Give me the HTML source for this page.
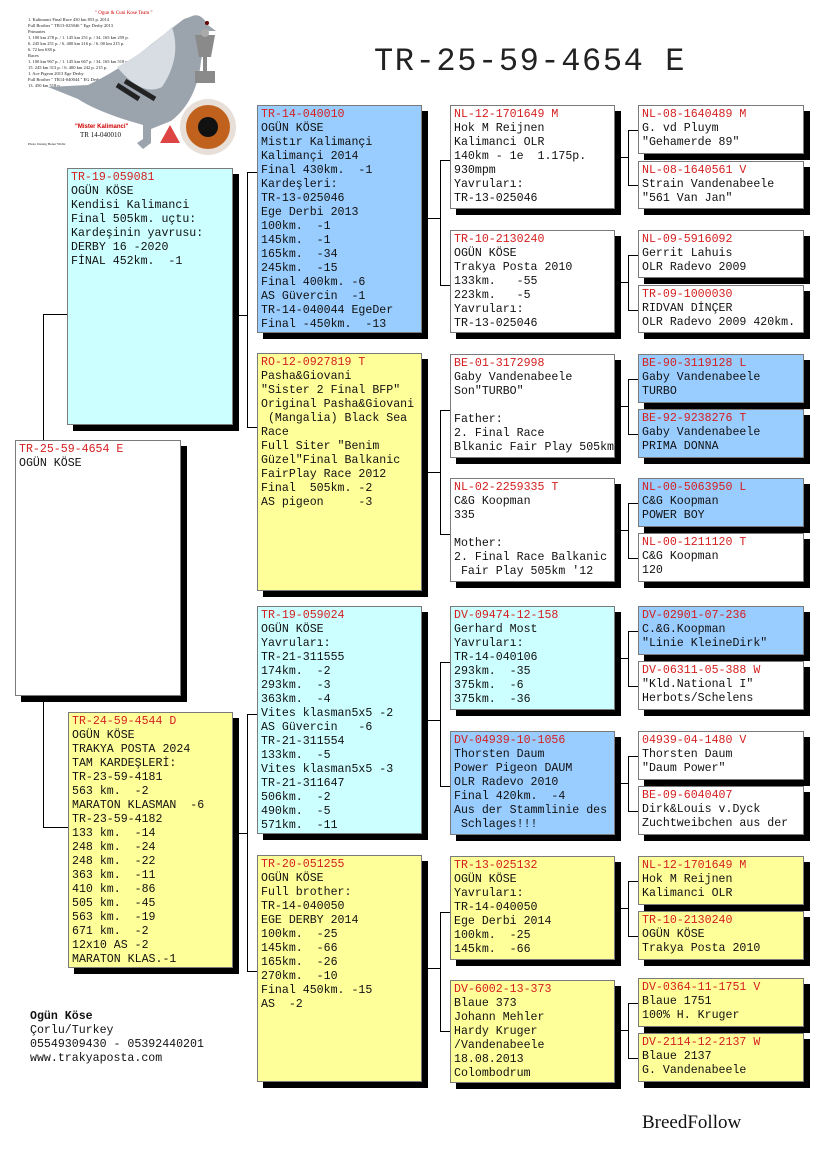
<!DOCTYPE html>
<html><head><meta charset="utf-8"><style>
*{margin:0;padding:0;box-sizing:border-box}
body{width:825px;height:1172px;background:#fff;position:relative;overflow:hidden;font-family:"Liberation Mono",monospace}
.b{position:absolute;border:1px solid #7a7a7a;box-shadow:6px 6px 0 #000;font-size:11.6px;line-height:14px;padding:2px 0 0 3px;color:#111;white-space:pre;overflow:hidden}
.r{color:#d42020}
.w{background:#fff}.y{background:#ffff99}.c{background:#ccffff}.bl{background:#99ccff}
.h{position:absolute;height:1px;background:#000}
.v{position:absolute;width:1px;background:#000}
</style></head><body>

<svg style="position:absolute;left:25px;top:5px" width="225" height="150" viewBox="0 0 225 150">
<text x="70" y="9" font-size="5" fill="#c00" font-family="Liberation Serif">" Ogun &amp; Cuni Kose Team "</text>
<g font-size="4.5" font-family="Liberation Serif" fill="#222">
<text x="3" y="16">1. Kalimanci Final Race 430 km 853 p. 2014</text>
<text x="3" y="22">Full Brother " TR13-025046 " Ege Derby 2013</text>
<text x="3" y="28">Primaries</text>
<text x="3" y="34">1. 100 km 278 p. / 1. 145 km 251 p. / 34. 165 km 259 p.</text>
<text x="3" y="40">6. 245 km 251 p. / 6. 400 km 216 p. / 6. 00 km 215 p.</text>
<text x="3" y="46">6. 72 km 638 p.</text>
<text x="3" y="52">Races</text>
<text x="3" y="58">1. 100 km 967 p. / 1. 145 km 667 p. / 34. 165 km 518 p.</text>
<text x="3" y="64">15. 245 km 313 p. / 6. 400 km 242 p. 215 p.</text>
<text x="3" y="70">1. Ace Pigeon 2013 Ege Derby</text>
<text x="3" y="76">Full Brother " TR14-040044 " EG Derby 2014 " 13 "</text>
<text x="3" y="82">13. 450 km 518 p.</text>
<text x="3" y="140" font-size="3.5">Photo Desing Bener Yildiz</text>
</g>
<path d="M165 12 q10 -6 18 8 l8 6 l-9 0 q-2 12 -6 30 q-4 40 -30 60 l-20 8 l0 14 l-8 6 l-6 -6 l6 -4 l0 -14 l-20 -6 q-30 -10 -45 -20 l-30 -12 l40 -2 q30 -14 60 -38 q20 -16 36 -28 z" fill="#9ba3ad"/>
<path d="M92 62 q30 -16 55 -40 q10 30 -10 60 q-20 10 -45 -20z" fill="#d8dde4"/>
<path d="M100 76 l30 18 M92 80 l22 14" stroke="#222" stroke-width="5"/>
<circle cx="182" cy="18" r="2" fill="#600"/>
<path d="M145 120 l-10 18 l20 0 z" fill="#d44"/>
<path d="M170 30 l20 0 l-4 22 l-12 0 z M178 52 l4 0 l0 14 l-4 0z M170 66 l20 0 l0 12 l-20 0z" fill="#8a8a8a"/>
<circle cx="180" cy="28" r="4" fill="#aaa"/>
<circle cx="183" cy="122" r="28" fill="#e8e0d8"/>
<circle cx="183" cy="122" r="22" fill="#c0621e"/>
<circle cx="183" cy="122" r="10" fill="#111"/>
<text x="50" y="123" font-size="6" fill="#c00" font-weight="bold" font-family="Liberation Sans">"Mister Kalimanci"</text>
<text x="55" y="132" font-size="7" fill="#111" font-family="Liberation Serif">TR 14-040010</text>
</svg>

<div style="position:absolute;left:374px;top:43px;font-size:32px;letter-spacing:1.6px;color:#222">TR-25-59-4654 E</div>

<!-- connectors -->
<div class="v" style="left:43px;top:314px;height:126px"></div><div class="h" style="left:43px;top:314px;width:25px"></div>
<div class="v" style="left:43px;top:696px;height:131px"></div><div class="h" style="left:43px;top:827px;width:25px"></div>

<div class="h" style="left:233px;top:315px;width:14px"></div><div class="v" style="left:247px;top:172px;height:256px"></div>
<div class="h" style="left:247px;top:172px;width:10px"></div><div class="h" style="left:247px;top:427px;width:10px"></div>
<div class="h" style="left:233px;top:833px;width:14px"></div><div class="v" style="left:247px;top:714px;height:258px"></div>
<div class="h" style="left:247px;top:714px;width:10px"></div><div class="h" style="left:247px;top:971px;width:10px"></div>

<div class="h" style="left:422px;top:218px;width:18px"></div><div class="v" style="left:440px;top:160px;height:125px"></div>
<div class="h" style="left:440px;top:160px;width:10px"></div><div class="h" style="left:440px;top:285px;width:10px"></div>
<div class="h" style="left:422px;top:472px;width:18px"></div><div class="v" style="left:440px;top:410px;height:125px"></div>
<div class="h" style="left:440px;top:410px;width:10px"></div><div class="h" style="left:440px;top:534px;width:10px"></div>
<div class="h" style="left:422px;top:720px;width:18px"></div><div class="v" style="left:440px;top:662px;height:125px"></div>
<div class="h" style="left:440px;top:662px;width:10px"></div><div class="h" style="left:440px;top:786px;width:10px"></div>
<div class="h" style="left:422px;top:968px;width:18px"></div><div class="v" style="left:440px;top:912px;height:120px"></div>
<div class="h" style="left:440px;top:912px;width:10px"></div><div class="h" style="left:440px;top:1031px;width:10px"></div>

<div class="h" style="left:614px;top:157px;width:14px"></div><div class="v" style="left:628px;top:130px;height:56px"></div><div class="h" style="left:628px;top:130px;width:10px"></div><div class="h" style="left:628px;top:185px;width:10px"></div>
<div class="h" style="left:614px;top:282px;width:14px"></div><div class="v" style="left:628px;top:255px;height:56px"></div><div class="h" style="left:628px;top:255px;width:10px"></div><div class="h" style="left:628px;top:310px;width:10px"></div>
<div class="h" style="left:614px;top:406px;width:14px"></div><div class="v" style="left:628px;top:379px;height:56px"></div><div class="h" style="left:628px;top:379px;width:10px"></div><div class="h" style="left:628px;top:434px;width:10px"></div>
<div class="h" style="left:614px;top:530px;width:14px"></div><div class="v" style="left:628px;top:503px;height:56px"></div><div class="h" style="left:628px;top:503px;width:10px"></div><div class="h" style="left:628px;top:558px;width:10px"></div>
<div class="h" style="left:614px;top:658px;width:14px"></div><div class="v" style="left:628px;top:631px;height:56px"></div><div class="h" style="left:628px;top:631px;width:10px"></div><div class="h" style="left:628px;top:686px;width:10px"></div>
<div class="h" style="left:614px;top:783px;width:14px"></div><div class="v" style="left:628px;top:756px;height:56px"></div><div class="h" style="left:628px;top:756px;width:10px"></div><div class="h" style="left:628px;top:811px;width:10px"></div>
<div class="h" style="left:614px;top:908px;width:14px"></div><div class="v" style="left:628px;top:881px;height:56px"></div><div class="h" style="left:628px;top:881px;width:10px"></div><div class="h" style="left:628px;top:936px;width:10px"></div>
<div class="h" style="left:614px;top:1030px;width:14px"></div><div class="v" style="left:628px;top:1003px;height:56px"></div><div class="h" style="left:628px;top:1003px;width:10px"></div><div class="h" style="left:628px;top:1058px;width:10px"></div>

<!-- gen0/1 -->
<div class="b w" style="left:15px;top:440px;width:166px;height:256px"><span class="r">TR-25-59-4654 E</span>
OGÜN KÖSE</div>
<div class="b c" style="left:67px;top:168px;width:166px;height:257px"><span class="r">TR-19-059081</span>
OGÜN KÖSE
Kendisi Kalimanci
Final 505km. uçtu:
Kardeşinin yavrusu:
DERBY 16 -2020
FİNAL 452km.  -1</div>
<div class="b y" style="left:68px;top:712px;width:165px;height:256px"><span class="r">TR-24-59-4544 D</span>
OGÜN KÖSE
TRAKYA POSTA 2024
TAM KARDEŞLERİ:
TR-23-59-4181
563 km.  -2
MARATON KLASMAN  -6
TR-23-59-4182
133 km.  -14
248 km.  -24
248 km.  -22
363 km.  -11
410 km.  -86
505 km.  -45
563 km.  -19
671 km.  -2
12x10 AS -2
MARATON KLAS.-1</div>

<!-- gen2 -->
<div class="b bl" style="left:257px;top:105px;width:165px;height:228px"><span class="r">TR-14-040010</span>
OGÜN KÖSE
Mistır Kalimançi
Kalimançi 2014
Final 430km.  -1
Kardeşleri:
TR-13-025046
Ege Derbi 2013
100km.  -1
145km.  -1
165km.  -34
245km.  -15
Final 400km. -6
AS Güvercin  -1
TR-14-040044 EgeDer
Final -450km.  -13</div>
<div class="b y" style="left:257px;top:353px;width:165px;height:238px"><span class="r">RO-12-0927819 T</span>
Pasha&amp;Giovani
"Sister 2 Final BFP"
Original Pasha&amp;Giovani
 (Mangalia) Black Sea
Race
Full Siter "Benim
Güzel"Final Balkanic
FairPlay Race 2012
Final  505km. -2
AS pigeon     -3</div>
<div class="b c" style="left:257px;top:606px;width:165px;height:228px"><span class="r">TR-19-059024</span>
OGÜN KÖSE
Yavruları:
TR-21-311555
174km.  -2
293km.  -3
363km.  -4
Vites klasman5x5 -2
AS Güvercin   -6
TR-21-311554
133km.  -5
Vites klasman5x5 -3
TR-21-311647
506km.  -2
490km.  -5
571km.  -11</div>
<div class="b y" style="left:257px;top:855px;width:165px;height:227px"><span class="r">TR-20-051255</span>
OGÜN KÖSE
Full brother:
TR-14-040050
EGE DERBY 2014
100km.  -25
145km.  -66
165km.  -26
270km.  -10
Final 450km. -15
AS  -2</div>

<!-- gen3 -->
<div class="b w" style="left:450px;top:105px;width:165px;height:104px"><span class="r">NL-12-1701649 M</span>
Hok M Reijnen
Kalimanci OLR
140km - 1e  1.175p.
930mpm
Yavruları:
TR-13-025046</div>
<div class="b w" style="left:450px;top:230px;width:165px;height:103px"><span class="r">TR-10-2130240</span>
OGÜN KÖSE
Trakya Posta 2010
133km.   -55
223km.   -5
Yavruları:
TR-13-025046</div>
<div class="b w" style="left:450px;top:354px;width:165px;height:104px"><span class="r">BE-01-3172998</span>
Gaby Vandenabeele
Son"TURBO"

Father:
2. Final Race
Blkanic Fair Play 505km</div>
<div class="b w" style="left:450px;top:478px;width:165px;height:104px"><span class="r">NL-02-2259335 T</span>
C&amp;G Koopman
335

Mother:
2. Final Race Balkanic
 Fair Play 505km '12</div>
<div class="b c" style="left:450px;top:606px;width:165px;height:104px"><span class="r">DV-09474-12-158</span>
Gerhard Most
Yavruları:
TR-14-040106
293km.  -35
375km.  -6
375km.  -36</div>
<div class="b bl" style="left:450px;top:731px;width:165px;height:104px"><span class="r">DV-04939-10-1056</span>
Thorsten Daum
Power Pigeon DAUM
OLR Radevo 2010
Final 420km.  -4
Aus der Stammlinie des
 Schlages!!!</div>
<div class="b y" style="left:450px;top:856px;width:165px;height:104px"><span class="r">TR-13-025132</span>
OGÜN KÖSE
Yavruları:
TR-14-040050
Ege Derbi 2014
100km.  -25
145km.  -66</div>
<div class="b y" style="left:450px;top:980px;width:165px;height:103px"><span class="r">DV-6002-13-373</span>
Blaue 373
Johann Mehler
Hardy Kruger
/Vandenabeele
18.08.2013
Colombodrum</div>

<!-- gen4 -->
<div class="b w" style="left:638px;top:105px;width:166px;height:49px"><span class="r">NL-08-1640489 M</span>
G. vd Pluym
"Gehamerde 89"</div>
<div class="b w" style="left:638px;top:161px;width:166px;height:48px"><span class="r">NL-08-1640561 V</span>
Strain Vandenabeele
"561 Van Jan"</div>
<div class="b w" style="left:638px;top:230px;width:166px;height:48px"><span class="r">NL-09-5916092</span>
Gerrit Lahuis
OLR Radevo 2009</div>
<div class="b w" style="left:638px;top:285px;width:166px;height:48px"><span class="r">TR-09-1000030</span>
RIDVAN DİNÇER
OLR Radevo 2009 420km.</div>
<div class="b bl" style="left:638px;top:354px;width:166px;height:49px"><span class="r">BE-90-3119128 L</span>
Gaby Vandenabeele
TURBO</div>
<div class="b bl" style="left:638px;top:409px;width:166px;height:49px"><span class="r">BE-92-9238276 T</span>
Gaby Vandenabeele
PRIMA DONNA</div>
<div class="b bl" style="left:638px;top:478px;width:166px;height:49px"><span class="r">NL-00-5063950 L</span>
C&amp;G Koopman
POWER BOY</div>
<div class="b w" style="left:638px;top:533px;width:166px;height:49px"><span class="r">NL-00-1211120 T</span>
C&amp;G Koopman
120</div>
<div class="b bl" style="left:638px;top:606px;width:166px;height:49px"><span class="r">DV-02901-07-236</span>
C.&amp;G.Koopman
"Linie KleineDirk"</div>
<div class="b w" style="left:638px;top:661px;width:166px;height:49px"><span class="r">DV-06311-05-388 W</span>
"Kld.National I"
Herbots/Schelens</div>
<div class="b w" style="left:638px;top:731px;width:166px;height:49px"><span class="r">04939-04-1480 V</span>
Thorsten Daum
"Daum Power"</div>
<div class="b w" style="left:638px;top:786px;width:166px;height:49px"><span class="r">BE-09-6040407</span>
Dirk&amp;Louis v.Dyck
Zuchtweibchen aus der</div>
<div class="b y" style="left:638px;top:856px;width:166px;height:49px"><span class="r">NL-12-1701649 M</span>
Hok M Reijnen
Kalimanci OLR</div>
<div class="b y" style="left:638px;top:911px;width:166px;height:49px"><span class="r">TR-10-2130240</span>
OGÜN KÖSE
Trakya Posta 2010</div>
<div class="b y" style="left:638px;top:978px;width:166px;height:49px"><span class="r">DV-0364-11-1751 V</span>
Blaue 1751
100% H. Kruger</div>
<div class="b y" style="left:638px;top:1033px;width:166px;height:49px"><span class="r">DV-2114-12-2137 W</span>
Blaue 2137
G. Vandenabeele</div>

<div style="position:absolute;left:30px;top:1010px;font-size:11.6px;line-height:14px;white-space:pre;color:#111"><b>Ogün Köse</b>
Çorlu/Turkey
05549309430 - 05392440201
www.trakyaposta.com</div>
<div style="position:absolute;left:642px;top:1112px;font-family:'Liberation Serif',serif;font-size:19px;color:#111">BreedFollow</div>
</body></html>
